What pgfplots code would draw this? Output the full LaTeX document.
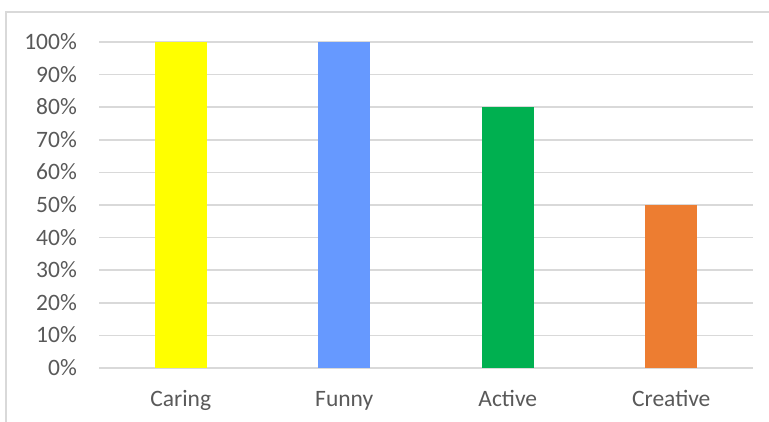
\documentclass[border=0pt]{standalone}
\usepackage{fontspec}
\setmainfont{Carlito}
\usepackage{pgfplots}
\pgfplotsset{compat=1.18}
\definecolor{gridc}{HTML}{D9D9D9}
\definecolor{txt}{HTML}{595959}
\definecolor{cyel}{HTML}{FFFF00}
\definecolor{cblu}{HTML}{6699FF}
\definecolor{cgrn}{HTML}{00B050}
\definecolor{corg}{HTML}{ED7D31}
\begin{document}
\begin{tikzpicture}
\useasboundingbox (0,0) rectangle (769bp,422bp);
\draw[gridc, line width=1.5bp] (6bp,-2bp) -- (6bp,410bp) -- (771bp,410bp);
\begin{axis}[
  at={(99bp,54bp)}, anchor=south west,
  scale only axis, width=654bp, height=326bp,
  xmin=-0.5, xmax=3.5, ymin=0, ymax=100,
  axis line style={draw=none},
  major tick length=0pt,
  ymajorgrids, grid style={gridc, line width=1.5bp},
  ytick={0,10,...,100},
  yticklabels={0\%,10\%,20\%,30\%,40\%,50\%,60\%,70\%,80\%,90\%,100\%},
  xtick={0,1,2,3},
  xticklabels={Caring,Funny,Active,Creative},
  every tick label/.append style={font=\fontsize{23.5bp}{28bp}\selectfont, text=txt, inner sep=0pt},
  yticklabel style={anchor=base east, xshift=-22bp, yshift=-7.5bp},
  xticklabel style={anchor=base, yshift=-39bp},
  ybar, bar width=52bp, bar shift=0pt,
]
\addplot[fill=cyel, draw=none] coordinates {(0,100)};
\addplot[fill=cblu, draw=none] coordinates {(1,100)};
\addplot[fill=cgrn, draw=none] coordinates {(2,80)};
\addplot[fill=corg, draw=none] coordinates {(3,50)};
\end{axis}
\end{tikzpicture}
\end{document}
